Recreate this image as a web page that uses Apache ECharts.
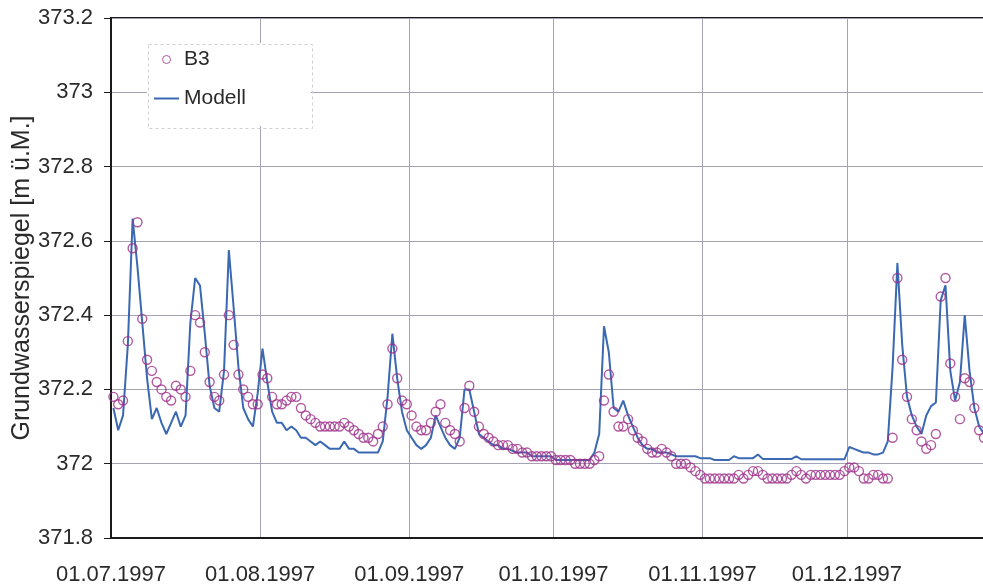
<!DOCTYPE html>
<html>
<head>
<meta charset="utf-8">
<script src="https://cdn.jsdelivr.net/npm/echarts@6/dist/echarts.min.js"></script>
<style>
  html, body { margin: 0; padding: 0; overflow: hidden; background: #ffffff; }
  #chart { width: 1000px; height: 588px; }
</style>
</head>
<body>
<div id="chart"></div>
<script>
// Time frame of the hydrograph (dd.mm.yyyy)
const startDate = '01.07.1997';
const endDate = '01.01.1998';

// Month labels along the time axis
const tickLabels = ['01.07.1997', '01.08.1997', '01.09.1997', '01.10.1997', '01.11.1997', '01.12.1997'];

// Water level axis [m ü.M.]
const levelMin = 371.8;
const levelMax = 373.2;
const levelStep = 0.2;

// Daily measured groundwater level at borehole B3 (first value = 01.07.1997)
const b3Values = [
  372.18, 372.16, 372.17, 372.33, 372.58, 372.65, 372.39, 372.28, 372.25, 372.22,
  372.20, 372.18, 372.17, 372.21, 372.20, 372.18, 372.25, 372.40, 372.38, 372.30,
  372.22, 372.18, 372.17, 372.24, 372.40, 372.32, 372.24, 372.20, 372.18, 372.16,
  372.16, 372.24, 372.23, 372.18, 372.16, 372.16, 372.17, 372.18, 372.18, 372.15,
  372.13, 372.12, 372.11, 372.10, 372.10, 372.10, 372.10, 372.10, 372.11, 372.10,
  372.09, 372.08, 372.07, 372.07, 372.06, 372.08, 372.10, 372.16, 372.31, 372.23,
  372.17, 372.16, 372.13, 372.10, 372.09, 372.09, 372.11, 372.14, 372.16, 372.11,
  372.09, 372.08, 372.06, 372.15, 372.21, 372.14, 372.10, 372.08, 372.07, 372.06,
  372.05, 372.05, 372.05, 372.04, 372.04, 372.03, 372.03, 372.02, 372.02, 372.02,
  372.02, 372.02, 372.01, 372.01, 372.01, 372.01, 372.00, 372.00, 372.00, 372.00,
  372.01, 372.02, 372.17, 372.24, 372.14, 372.10, 372.10, 372.12, 372.09, 372.07,
  372.06, 372.04, 372.03, 372.03, 372.04, 372.03, 372.02, 372.00, 372.00, 372.00,
  371.99, 371.98, 371.97, 371.96, 371.96, 371.96, 371.96, 371.96, 371.96, 371.96,
  371.97, 371.96, 371.97, 371.98, 371.98, 371.97, 371.96, 371.96, 371.96, 371.96,
  371.96, 371.97, 371.98, 371.97, 371.96, 371.97, 371.97, 371.97, 371.97, 371.97,
  371.97, 371.97, 371.98, 371.99, 371.99, 371.98, 371.96, 371.96, 371.97, 371.97,
  371.96, 371.96, 372.07, 372.50, 372.28, 372.18, 372.12, 372.09, 372.06, 372.04,
  372.05, 372.08, 372.45, 372.50, 372.27, 372.18, 372.12, 372.23, 372.22, 372.15,
  372.09, 372.07
];

// Daily simulated groundwater level (model run)
const modellValues = [
  372.15, 372.09, 372.13, 372.32, 372.66, 372.53, 372.38, 372.23, 372.12, 372.15,
  372.11, 372.08, 372.11, 372.14, 372.10, 372.13, 372.38, 372.50, 372.48, 372.35,
  372.21, 372.15, 372.14, 372.25, 372.575, 372.42, 372.26, 372.15, 372.12, 372.10,
  372.19, 372.31, 372.22, 372.14, 372.11, 372.11, 372.09, 372.10, 372.09, 372.07,
  372.07, 372.06, 372.05, 372.06, 372.05, 372.04, 372.04, 372.04, 372.06, 372.04,
  372.04, 372.03, 372.03, 372.03, 372.03, 372.03, 372.06, 372.18, 372.35, 372.23,
  372.14, 372.09, 372.07, 372.05, 372.04, 372.05, 372.07, 372.13, 372.10, 372.07,
  372.05, 372.04, 372.07, 372.20, 372.20, 372.14, 372.08, 372.07, 372.06, 372.05,
  372.05, 372.04, 372.04, 372.035, 372.03, 372.03, 372.03, 372.02, 372.02, 372.02,
  372.02, 372.02, 372.01, 372.01, 372.01, 372.01, 372.01, 372.01, 372.01, 372.01,
  372.03, 372.08, 372.37, 372.30, 372.15, 372.14, 372.17, 372.13, 372.10, 372.07,
  372.05, 372.04, 372.04, 372.03, 372.03, 372.03, 372.025, 372.02, 372.02, 372.02,
  372.02, 372.02, 372.015, 372.015, 372.015, 372.01, 372.01, 372.01, 372.01, 372.02,
  372.015, 372.015, 372.015, 372.015, 372.025, 372.013, 372.013, 372.013, 372.013, 372.013,
  372.013, 372.013, 372.02, 372.012, 372.012, 372.012, 372.012, 372.012, 372.012, 372.012,
  372.012, 372.012, 372.012, 372.045, 372.04, 372.035, 372.03, 372.03, 372.025, 372.025,
  372.03, 372.06, 372.26, 372.54, 372.32, 372.18, 372.13, 372.10, 372.08, 372.13,
  372.155, 372.165, 372.44, 372.48, 372.25, 372.17, 372.22, 372.40, 372.25, 372.15,
  372.10, 372.08
];

// --- helpers -------------------------------------------------------------
const DAY_MS = 86400000;
function parseDate(s) {
  const [d, m, y] = s.split('.').map(Number);
  return Date.UTC(y, m - 1, d);
}
const t0 = parseDate(startDate);
function dayOffset(s) { return Math.round((parseDate(s) - t0) / DAY_MS); }

const tickDays = tickLabels.map(dayOffset);
const axisEnd = dayOffset(endDate);

// daily values are plotted at midday
const b3Data = b3Values.map((v, i) => [i + 0.5, v]);
const modellData = modellValues.map((v, i) => [i + 0.5, v]);

const FONT = '"Liberation Sans", Arial, Helvetica, sans-serif';
const TEXT = '#2a2a2a';
const FRAME = '#1a1a1a';
const GRIDLINE = '#a3a3b3';
const B3_COLOR = '#9e3089';
const MODELL_COLOR = '#3a69b2';

const chart = echarts.init(document.getElementById('chart'), null, { renderer: 'canvas' });

chart.setOption({
  animation: false,
  backgroundColor: '#ffffff',
  textStyle: { fontFamily: FONT },
  grid: {
    left: 111, top: 18, right: 4, bottom: 50,
    outerBoundsMode: 'none',
    containLabel: false,
    show: true, borderColor: FRAME, borderWidth: 2, backgroundColor: 'transparent'
  },
  xAxis: {
    type: 'value',
    min: 0,
    max: axisEnd,
    axisLine: { show: true, onZero: false, lineStyle: { color: FRAME, width: 2 } },
    axisTick: { show: false, customValues: tickDays },
    axisLabel: {
      customValues: tickDays,
      formatter: v => tickLabels[tickDays.indexOf(Math.round(v))] || '',
      fontFamily: FONT, fontSize: 22, color: TEXT, margin: 26
    },
    splitLine: { show: true, lineStyle: { color: GRIDLINE, width: 1 } }
  },
  yAxis: {
    type: 'value',
    min: levelMin,
    max: levelMax,
    interval: levelStep,
    name: 'Grundwasserspiegel [m ü.M.]',
    nameLocation: 'middle',
    nameRotate: 90,
    nameGap: 76,
    nameMoveOverlap: false,
    nameTextStyle: { fontFamily: FONT, fontSize: 25, color: TEXT },
    axisLine: { show: true, lineStyle: { color: FRAME, width: 2 } },
    axisTick: { show: true, inside: false, length: 7, lineStyle: { color: FRAME, width: 1 } },
    axisLabel: {
      fontFamily: FONT, fontSize: 22, color: TEXT, margin: 18,
      formatter: v => String(Math.round(v * 10) / 10)
    },
    splitLine: { show: true, lineStyle: { color: GRIDLINE, width: 1 } }
  },
  legend: {
    orient: 'vertical',
    left: 147,
    top: 43,
    padding: [6, 65, 17, 6],
    itemGap: 18,
    itemWidth: 25,
    itemHeight: 8,
    backgroundColor: '#ffffff',
    textStyle: { fontFamily: FONT, fontSize: 21, color: TEXT },
    data: [
      { name: 'B3', icon: 'circle',
        itemStyle: { color: 'rgba(255,255,255,0)', borderColor: B3_COLOR, borderWidth: 1 } },
      { name: 'Modell',
        itemStyle: { opacity: 0, borderWidth: 0 },
        lineStyle: { color: MODELL_COLOR, width: 2 } }
    ]
  },
  graphic: [{
    type: 'rect',
    left: 146, top: 42, z: 100,
    shape: { width: 164, height: 84 },
    style: { fill: 'none', stroke: '#cfcfcf', lineWidth: 1, lineDash: [3, 3] }
  }],
  series: [
    {
      name: 'Modell',
      type: 'line',
      data: modellData,
      symbol: 'none',
      showSymbol: false,
      lineStyle: { color: MODELL_COLOR, width: 2 },
      itemStyle: { color: MODELL_COLOR },
      z: 2
    },
    {
      name: 'B3',
      type: 'scatter',
      data: b3Data,
      symbol: 'circle',
      symbolSize: 9,
      symbolKeepAspect: true,
      itemStyle: { color: 'rgba(255,255,255,0)', borderColor: B3_COLOR, borderWidth: 1.4 },
      z: 3
    }
  ]
});
</script>
</body>
</html>
